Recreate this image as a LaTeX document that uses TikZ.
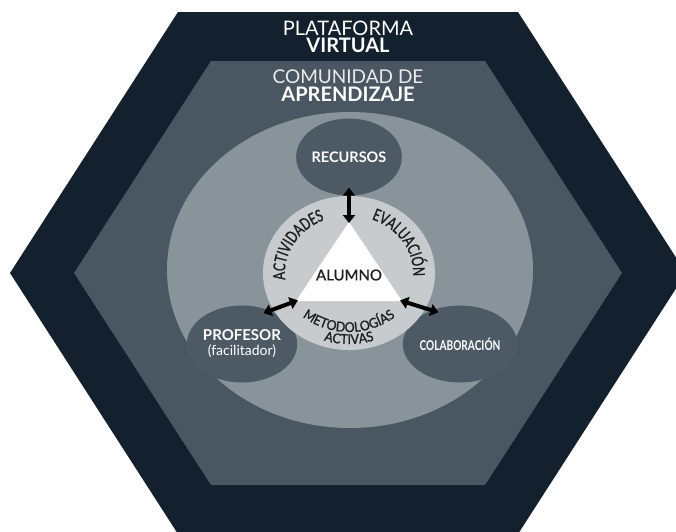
\documentclass[tikz,border=0pt]{standalone}
\usepackage{fontspec}
\setmainfont{Lato}
\newfontfamily\condfont[FakeStretch=0.75]{Lato}
\newfontfamily\ringfont[FakeStretch=0.72, FakeBold=1.2]{Lato}
\newfontfamily\arcfont[FakeStretch=0.92, FakeBold=1.2]{Lato}
\newfontfamily\heavyfont[FakeBold=1]{Lato}
\usetikzlibrary{shapes.geometric, arrows.meta, decorations.text}

\definecolor{hexdark}{RGB}{19,32,45}
\definecolor{hexmid}{RGB}{74,86,98}
\definecolor{ovalgray}{RGB}{137,147,154}
\definecolor{circdark}{RGB}{77,89,101}
\definecolor{ringgray}{RGB}{200,203,205}
\definecolor{ringink}{RGB}{30,30,30}

\newcommand{\ringtop}{\ringfont\fontsize{16.5pt}{16.5pt}\selectfont\color{ringink}}
\newcommand{\ringbot}{\arcfont\fontsize{13.5pt}{13.5pt}\selectfont\color{ringink}}

\begin{document}
\begin{tikzpicture}[x=1pt, y=1pt,
    agent/.style={ellipse, fill=circdark, minimum width=86pt, minimum height=77pt, inner sep=0pt, text=white, align=center},
    biarrow/.style={{Triangle[length=8pt,width=12pt]}-{Triangle[length=8pt,width=12pt]}, line width=4pt, black},
    title/.style={text=white, anchor=base, inner sep=0pt}]
    \useasboundingbox (-348,273) rectangle (328,-258);

    % Virtual platform
    \fill[hexdark] (-170,261) -- (170,261) -- (338,0) -- (170,-261) -- (-170,-261) -- (-338,0) -- cycle;
    \node[title, font=\fontsize{20pt}{20pt}\selectfont] (plataforma) at (0,238) {PLATAFORMA};
    \node[title, font=\bfseries\fontsize{20pt}{20pt}\selectfont] (virtual) at (0,221) {VIRTUAL};

    % Learning community
    \fill[hexmid] (-137,212) -- (137,212) -- (274,0) -- (137,-212) -- (-137,-212) -- (-274,0) -- cycle;
    \node[title, text=white!92!black, font=\fontsize{19pt}{19pt}\selectfont] (comunidad) at (0,189.5) {COMUNIDAD DE};
    \node[title, font=\bfseries\fontsize{20pt}{20pt}\selectfont] (aprendizaje) at (0,172) {APRENDIZAJE};

    % Oval
    \fill[ovalgray] (2,3) ellipse [x radius=183, y radius=158];

    % Outer agents
    \node[agent, font=\bfseries\fontsize{14.5pt}{14.5pt}\selectfont] (recursos) at (1,116) {RECURSOS};
    \node[agent, font=\fontsize{14pt}{15pt}\selectfont] (profesor) at (-106,-71) {\textbf{\fontsize{15pt}{15pt}\selectfont PROFESOR}\\(facilitador)};
    \node[agent, font=\condfont\bfseries\fontsize{13.5pt}{13.5pt}\selectfont] (colaboracion) at (112,-71) {COLABORACIÓN};

    % Ring and student triangle
    \node[ellipse, fill=ringgray, minimum width=172pt, minimum height=154pt] (ring) at (1,0) {};
    \coordinate (tA) at (1,51);
    \coordinate (tB) at (-52,-28);
    \coordinate (tC) at (54,-28);
    \fill[white] (tA) -- (tB) -- (tC) -- cycle;
    \node[text=ringink, font=\heavyfont\fontsize{15pt}{15pt}\selectfont] (alumno) at (1,-2) {ALUMNO};

    % Ring labels
    \path[decorate, decoration={text along path, text align=center, text={|\ringtop|ACTIVIDADES}}]
        ([shift={(1,0)}]195:64 and 57.5) arc [start angle=195, end angle=105, x radius=64, y radius=57.5];
    \path[decorate, decoration={text along path, text align=center, text={|\ringtop|EVALUACIÓN}}]
        ([shift={(1,0)}]80:64 and 57.5) arc [start angle=80, end angle=-15, x radius=64, y radius=57.5];
    \path[decorate, decoration={text along path, text align=center, text={|\ringbot|METODOLOGÍAS}}]
        ([shift={(1,19)}]215:78) arc [start angle=215, end angle=325, radius=78];
    \path[decorate, decoration={text along path, text align=center, text={|\ringbot|ACTIVAS}}]
        ([shift={(1,19)}]235:90) arc [start angle=235, end angle=305, radius=90];

    % Arrows
    \draw[biarrow, shorten <=-8pt, shorten >=-1pt] (recursos.south) -- (tA);
    \draw[biarrow, shorten <=-2pt, shorten >=-7pt] (tB) -- (profesor.50);
    \draw[biarrow, shorten <=-2pt, shorten >=-7pt] (tC) -- (colaboracion.130);
\end{tikzpicture}
\end{document}
